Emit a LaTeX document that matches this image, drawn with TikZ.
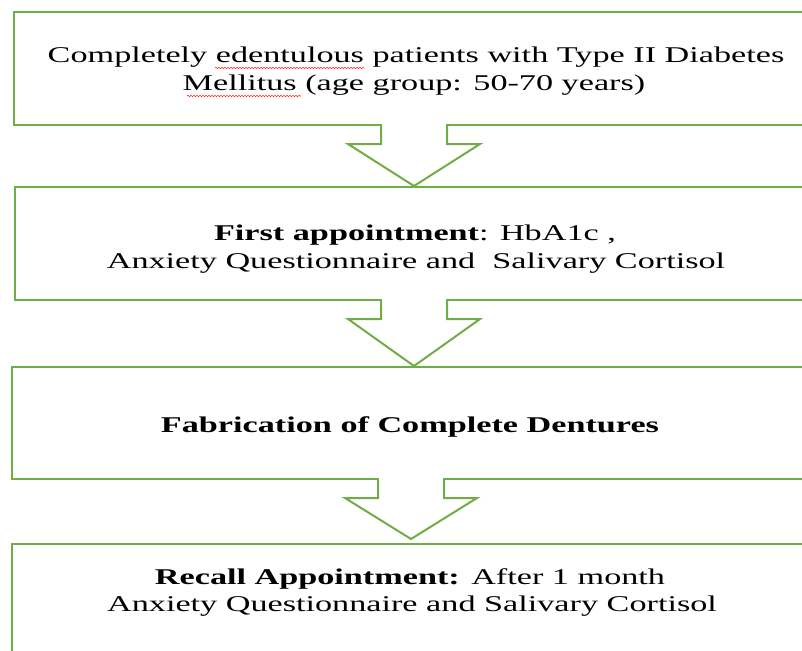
\documentclass[tikz,border=0pt]{standalone}
\usepackage{fontspec}
\setmainfont{Liberation Serif}[FakeStretch=1.52]
\usetikzlibrary{calc,decorations.pathmorphing}
\definecolor{officegreen}{HTML}{70AD47}
\newcommand{\flowarrow}[3]{%
  \fill[white] ($(#1.south)+(-32,-1.6)$) rectangle ($(#1.south)+(32,1.6)$);
  \draw[arrowline] ($(#1.south)+(-33,0)$) -- ($(#1.south)+(-33,18)$) -- ($(#1.south)+(-66,18)$)
     -- ($(#1.south |- #2.north)+(0,-#3)$) -- ($(#1.south)+(66,18)$) -- ($(#1.south)+(33,18)$)
     -- ($(#1.south)+(33,0)$);
}
\begin{document}
\begin{tikzpicture}[x=1pt,y=-1pt,
  boxshape/.style={draw=officegreen, line width=2pt, rectangle, inner sep=0pt},
  arrowline/.style={draw=officegreen, line width=2pt, line join=miter},
  txt/.style={inner sep=0pt, anchor=base, font=\fontsize{22.5}{28}\selectfont},
  spell/.style={draw=red!85!white, line width=0.6pt, decorate,
     decoration={snake, amplitude=0.7pt, segment length=3pt}}]
\useasboundingbox (0,0) rectangle (802,650);
% boxes
\node[boxshape, minimum width=800pt, minimum height=113pt] (b1) at (414,68.5) {};
\node[boxshape, minimum width=798pt, minimum height=113pt] (b2) at (414,243.5) {};
\node[boxshape, minimum width=798pt, minimum height=112pt] (b3) at (411,423) {};
\node[boxshape, minimum width=798pt, minimum height=160pt] (b4) at (411,624) {};
% arrows
\flowarrow{b1}{b2}{0}
\flowarrow{b2}{b3}{0}
\flowarrow{b3}{b4}{4}
% texts
\node[txt] (t1a) at (416,63) {Completely edentulous patients with Type II Diabetes};
\node[txt] (t1b) at (414,91) {Mellitus (age group: 50-70 years)};
\node[txt] (t2a) at (415,240) {\textbf{First appointment}: HbA1c ,};
\node[txt] (t2b) at (416,268) {Anxiety Questionnaire and\ \ Salivary Cortisol};
\node[txt] (t3) at (410,432) {\textbf{Fabrication of Complete Dentures}};
\node[txt] (t4a) at (410,584) {\textbf{Recall Appointment:} After 1 month};
\node[txt] (t4b) at (412,611) {Anxiety Questionnaire and Salivary Cortisol};
% spell-check underlines
\draw[spell] (215,68) -- (364,68);
\draw[spell] (187,96) -- (301,96);
\end{tikzpicture}
\end{document}
